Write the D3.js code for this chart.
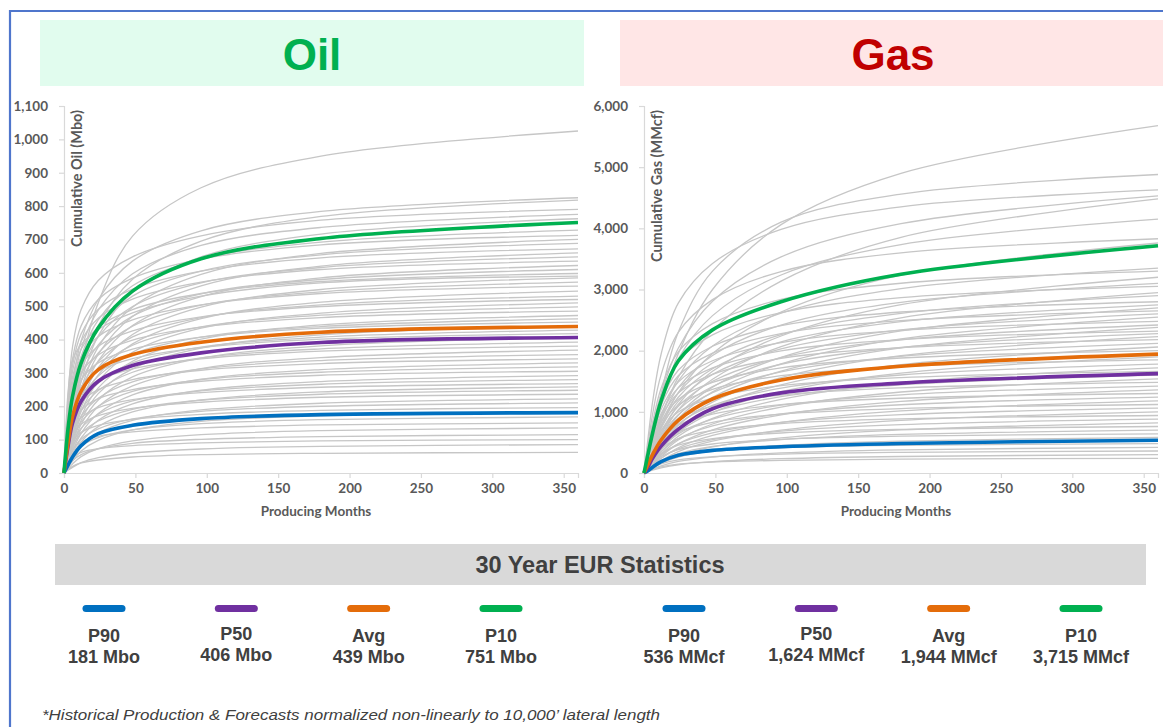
<!DOCTYPE html>
<html>
<head>
<meta charset="utf-8">
<script src="https://cdn.jsdelivr.net/npm/d3@7"></script>
<style>
  html, body { margin: 0; padding: 0; background: #ffffff; }
  svg { display: block; }
</style>
</head>
<body>
<svg id="chart" width="1163" height="727"></svg>
<script>
// ---------------- DATA ----------------
const months = [0, 3, 6, 12, 24, 48, 96, 180, 360];

const oilTicksY = [0, 100, 200, 300, 400, 500, 600, 700, 800, 900, 1000, 1100];
const gasTicksY = [0, 1000, 2000, 3000, 4000, 5000, 6000];
const monthTicks = [0, 50, 100, 150, 200, 250, 300, 350];

const oilP90 = [0, 25, 48, 82, 118, 143, 163, 175, 181];
const oilP50 = [0, 85, 150, 215, 275, 322, 360, 391, 406];
const oilAvg = [0, 95, 170, 245, 310, 355, 392, 422, 439];
const oilP10 = [0, 140, 230, 330, 435, 545, 642, 703, 751];

const gasP90 = [0, 40, 95, 185, 290, 370, 428, 482, 536];
const gasP50 = [0, 110, 240, 440, 715, 1050, 1310, 1470, 1624];
const gasAvg = [0, 150, 300, 540, 860, 1210, 1520, 1745, 1944];
const gasP10 = [0, 330, 650, 1180, 1830, 2340, 2800, 3250, 3715];

const oilWells = [
  [0, 60, 150, 320, 510, 710, 855, 950, 1025],
  [0, 250, 340, 385, 430, 480, 530, 570, 590],
  [0, 149, 264, 396, 520, 635, 726, 784, 825],
  [0, 82, 164, 294, 442, 581, 695, 769, 818],
  [0, 237, 379, 490, 577, 648, 711, 758, 790],
  [0, 140, 248, 372, 488, 597, 682, 736, 775],
  [0, 76, 152, 274, 411, 541, 648, 716, 762],
  [0, 131, 233, 349, 459, 561, 641, 692, 728],
  [0, 214, 342, 441, 520, 584, 641, 684, 712],
  [0, 70, 140, 252, 378, 497, 595, 658, 700],
  [0, 124, 220, 330, 433, 530, 605, 654, 688],
  [0, 202, 323, 417, 491, 551, 605, 645, 672],
  [0, 66, 132, 238, 356, 469, 561, 620, 660],
  [0, 117, 207, 311, 408, 499, 570, 616, 648],
  [0, 191, 305, 394, 464, 521, 572, 610, 635],
  [0, 62, 124, 224, 336, 442, 529, 585, 622],
  [0, 110, 195, 293, 384, 470, 537, 580, 610],
  [0, 179, 287, 371, 437, 490, 538, 574, 598],
  [0, 59, 117, 211, 316, 415, 497, 550, 585],
  [0, 103, 183, 275, 360, 440, 503, 543, 572],
  [0, 168, 269, 347, 409, 459, 504, 538, 560],
  [0, 55, 109, 196, 294, 387, 463, 512, 545],
  [0, 95, 170, 254, 334, 408, 466, 504, 530],
  [0, 156, 250, 322, 380, 426, 468, 499, 520],
  [0, 51, 102, 184, 275, 362, 434, 479, 510],
  [0, 90, 159, 239, 314, 383, 438, 473, 498],
  [0, 146, 233, 301, 354, 398, 437, 466, 485],
  [0, 47, 94, 170, 255, 335, 401, 444, 472],
  [0, 83, 148, 222, 291, 356, 407, 439, 462],
  [0, 136, 217, 280, 330, 371, 407, 434, 452],
  [0, 44, 88, 158, 238, 312, 374, 414, 440],
  [0, 77, 137, 205, 270, 330, 377, 407, 428],
  [0, 125, 201, 259, 305, 343, 376, 401, 418],
  [0, 41, 81, 146, 219, 288, 344, 381, 405],
  [0, 71, 125, 188, 247, 302, 345, 372, 392],
  [0, 114, 182, 236, 277, 312, 342, 365, 380],
  [0, 37, 74, 132, 199, 261, 313, 346, 368],
  [0, 64, 114, 170, 224, 273, 312, 337, 355],
  [0, 103, 164, 212, 250, 280, 308, 328, 342],
  [0, 33, 66, 119, 178, 234, 281, 310, 330],
  [0, 57, 102, 153, 200, 245, 280, 302, 318],
  [0, 92, 146, 189, 223, 250, 275, 293, 305],
  [0, 29, 58, 105, 158, 207, 248, 274, 292],
  [0, 50, 90, 134, 176, 216, 246, 266, 280],
  [0, 80, 129, 166, 196, 220, 241, 257, 268],
  [0, 26, 52, 93, 139, 183, 219, 243, 258],
  [0, 45, 79, 119, 156, 191, 218, 236, 248],
  [0, 71, 113, 146, 172, 194, 212, 227, 236],
  [0, 22, 44, 80, 120, 158, 189, 209, 222],
  [0, 38, 67, 101, 132, 162, 185, 200, 210],
  [0, 59, 94, 122, 143, 161, 176, 188, 196],
  [0, 18, 36, 66, 98, 129, 155, 171, 182],
  [0, 30, 54, 81, 106, 129, 148, 160, 168],
  [0, 45, 72, 93, 110, 123, 135, 144, 150],
  [0, 14, 27, 49, 73, 96, 115, 127, 135],
  [0, 21, 37, 55, 72, 89, 101, 109, 115],
  [0, 30, 48, 62, 73, 82, 90, 96, 100],
  [0, 9, 17, 31, 46, 60, 72, 80, 85],
  [0, 11, 20, 30, 39, 48, 55, 59, 62]
];

const gasWells = [
  [0, 300, 600, 1100, 1950, 3000, 4060, 4900, 5680],
  [0, 350, 700, 1300, 2300, 3300, 4100, 4560, 4880],
  [0, 602, 1158, 1945, 2778, 3426, 3982, 4352, 4630],
  [0, 362, 680, 1268, 2039, 2809, 3533, 4077, 4530],
  [0, 224, 448, 896, 1568, 2330, 3136, 3853, 4480],
  [0, 332, 623, 1162, 1868, 2573, 3237, 3735, 4150],
  [0, 498, 958, 1609, 2298, 2834, 3294, 3600, 3830],
  [0, 188, 376, 752, 1316, 1955, 2632, 3234, 3760],
  [0, 268, 503, 938, 1508, 2077, 2613, 3015, 3350],
  [0, 429, 825, 1386, 1980, 2442, 2838, 3102, 3300],
  [0, 160, 320, 640, 1120, 1664, 2240, 2752, 3200],
  [0, 248, 465, 868, 1395, 1922, 2418, 2790, 3100],
  [0, 397, 763, 1281, 1830, 2257, 2623, 2867, 3050],
  [0, 148, 295, 590, 1033, 1534, 2065, 2537, 2950],
  [0, 232, 435, 812, 1305, 1798, 2262, 2610, 2900],
  [0, 364, 700, 1176, 1680, 2072, 2408, 2632, 2800],
  [0, 220, 413, 770, 1238, 1705, 2145, 2475, 2750],
  [0, 135, 270, 540, 945, 1404, 1890, 2322, 2700],
  [0, 345, 663, 1113, 1590, 1961, 2279, 2491, 2650],
  [0, 208, 390, 728, 1170, 1612, 2028, 2340, 2600],
  [0, 128, 255, 510, 893, 1326, 1785, 2193, 2550],
  [0, 322, 620, 1042, 1488, 1835, 2133, 2331, 2480],
  [0, 194, 363, 678, 1089, 1500, 1888, 2178, 2420],
  [0, 119, 238, 476, 833, 1238, 1666, 2047, 2380],
  [0, 302, 580, 974, 1392, 1717, 1995, 2181, 2320],
  [0, 182, 342, 638, 1026, 1414, 1778, 2052, 2280],
  [0, 112, 223, 446, 781, 1160, 1561, 1918, 2230],
  [0, 283, 545, 916, 1308, 1613, 1875, 2049, 2180],
  [0, 170, 318, 594, 954, 1314, 1654, 1908, 2120],
  [0, 103, 206, 412, 721, 1071, 1442, 1772, 2060],
  [0, 260, 500, 840, 1200, 1480, 1720, 1880, 2000],
  [0, 156, 293, 546, 878, 1209, 1521, 1755, 1950],
  [0, 95, 190, 380, 665, 988, 1330, 1634, 1900],
  [0, 241, 463, 777, 1110, 1369, 1591, 1739, 1850],
  [0, 142, 267, 498, 801, 1104, 1388, 1602, 1780],
  [0, 86, 172, 344, 602, 894, 1204, 1479, 1720],
  [0, 216, 415, 697, 996, 1228, 1428, 1560, 1660],
  [0, 128, 240, 448, 720, 992, 1248, 1440, 1600],
  [0, 77, 154, 308, 539, 801, 1078, 1324, 1540],
  [0, 192, 370, 622, 888, 1095, 1273, 1391, 1480],
  [0, 114, 213, 398, 639, 880, 1108, 1278, 1420],
  [0, 68, 136, 272, 476, 707, 952, 1170, 1360],
  [0, 169, 325, 546, 780, 962, 1118, 1222, 1300],
  [0, 99, 186, 347, 558, 769, 967, 1116, 1240],
  [0, 59, 118, 236, 413, 614, 826, 1015, 1180],
  [0, 146, 280, 470, 672, 829, 963, 1053, 1120],
  [0, 85, 159, 297, 477, 657, 827, 954, 1060],
  [0, 50, 100, 200, 350, 520, 700, 860, 1000],
  [0, 122, 235, 395, 564, 696, 808, 884, 940],
  [0, 70, 132, 246, 396, 546, 686, 792, 880],
  [0, 41, 82, 164, 287, 426, 574, 705, 820],
  [0, 99, 190, 319, 456, 562, 654, 714, 760],
  [0, 56, 105, 196, 315, 434, 546, 630, 700],
  [0, 83, 160, 269, 384, 474, 550, 602, 640],
  [0, 46, 87, 162, 261, 360, 452, 522, 580],
  [0, 62, 120, 202, 288, 355, 413, 451, 480],
  [0, 34, 63, 118, 189, 260, 328, 378, 420],
  [0, 47, 90, 151, 216, 266, 310, 338, 360],
  [0, 24, 45, 84, 135, 186, 234, 270, 300],
  [0, 31, 60, 101, 144, 178, 206, 226, 240]
];

const statLabels = ["P90", "P50", "Avg", "P10"];
const oilStats = ["181 Mbo", "406 Mbo", "439 Mbo", "751 Mbo"];
const gasStats = ["536 MMcf", "1,624 MMcf", "1,944 MMcf", "3,715 MMcf"];
const statColors = ["#0070c0", "#7030a0", "#e46c0a", "#00b050"];

// ---------------- DRAW ----------------
const svg = d3.select("#chart");
const TXT = "#595959";
const DARK = "#404040";

// outer frame
svg.append("path")
  .attr("d", "M10,740 L10,11 L1175,11")
  .attr("fill", "none").attr("stroke", "#4f76cc").attr("stroke-width", 2.2);

// header boxes
svg.append("rect").attr("x", 40).attr("y", 20).attr("width", 544).attr("height", 66).attr("fill", "#e1fcee");
svg.append("rect").attr("x", 620).attr("y", 20).attr("width", 560).attr("height", 66).attr("fill", "#ffe6e6");
svg.append("text").attr("x", 312).attr("y", 70).attr("text-anchor", "middle")
  .attr("font-family", "Liberation Sans, Arial, sans-serif").attr("font-weight", "bold")
  .attr("font-size", 44).attr("fill", "#00b050").text("Oil");
svg.append("text").attr("x", 893).attr("y", 70).attr("text-anchor", "middle")
  .attr("font-family", "Liberation Sans, Arial, sans-serif").attr("font-weight", "bold")
  .attr("font-size", 44).attr("fill", "#c00000").text("Gas");

function drawPanel(cfg) {
  const x = d3.scaleLinear().domain([0, 360]).range([cfg.x0, cfg.x1]);
  const y = d3.scaleLinear().domain([0, cfg.ymax]).range([473, 106]);
  const g = svg.append("g");

  const line = d3.line()
    .x((d, i) => x(months[i]))
    .y(d => y(d))
    .curve(d3.curveCatmullRom.alpha(0.5));

  // axes
  const ya = g.append("g").attr("transform", `translate(${cfg.x0},0)`)
    .call(d3.axisLeft(y).tickValues(cfg.yticks).tickSize(5).tickPadding(11)
      .tickFormat(d3.format(",")));
  const xa = g.append("g").attr("transform", `translate(0,473)`)
    .call(d3.axisBottom(x).tickValues(monthTicks).tickSize(5).tickPadding(5)
      .tickFormat(d3.format("d")));
  [ya, xa].forEach(a => {
    a.select(".domain").attr("stroke", "#d9d9d9").attr("stroke-width", 1.2);
    a.selectAll(".tick line").attr("stroke", "#d9d9d9").attr("stroke-width", 1.2);
    a.selectAll(".tick text").attr("fill", TXT)
      .attr("font-family", "Lato, Carlito, sans-serif").attr("font-weight", "bold")
      .attr("font-size", 13.5);
  });

  // gray wells
  g.append("g").selectAll("path").data(cfg.wells).join("path")
    .attr("d", line).attr("fill", "none")
    .attr("stroke", "#c6c6c6").attr("stroke-width", 1.3);

  // stat curves
  cfg.stats.forEach((s, i) => {
    g.append("path").datum(s).attr("d", line).attr("fill", "none")
      .attr("stroke", statColors[i]).attr("stroke-width", 3.6)
      .attr("stroke-linejoin", "round");
  });

  // axis titles
  g.append("text")
    .attr("transform", `translate(${cfg.x0 + 18},110) rotate(-90)`)
    .attr("text-anchor", "end")
    .attr("font-family", "Lato, sans-serif").attr("font-weight", "bold")
    .attr("font-size", 14.5).attr("fill", TXT).text(cfg.ytitle);
  g.append("text")
    .attr("x", (cfg.x0 + cfg.x1) / 2 - 5).attr("y", 516).attr("text-anchor", "middle")
    .attr("font-family", "Lato, sans-serif").attr("font-weight", "bold")
    .attr("font-size", 13.5).attr("fill", TXT).text("Producing Months");
}

drawPanel({
  x0: 64, x1: 578, ymax: 1100, yticks: oilTicksY, wells: oilWells,
  stats: [oilP90, oilP50, oilAvg, oilP10], ytitle: "Cumulative Oil (Mbo)"
});
drawPanel({
  x0: 644, x1: 1158, ymax: 6000, yticks: gasTicksY, wells: gasWells,
  stats: [gasP90, gasP50, gasAvg, gasP10], ytitle: "Cumulative Gas (MMcf)"
});

// stats banner
svg.append("rect").attr("x", 55).attr("y", 544).attr("width", 1091).attr("height", 41).attr("fill", "#d9d9d9");
svg.append("text").attr("x", 600).attr("y", 573).attr("text-anchor", "middle")
  .attr("font-family", "Liberation Sans, Arial, sans-serif").attr("font-weight", "bold")
  .attr("font-size", 23.5).attr("fill", DARK).text("30 Year EUR Statistics");

// legends
function drawLegend(values, r0, r1) {
  const px = d3.scalePoint().domain(statLabels).range([r0, r1]);
  const lg = svg.append("g");
  statLabels.forEach((lab, i) => {
    const cx = px(lab);
    const off = lab === "P50" ? -2.5 : 0;
    lg.append("line").attr("x1", cx - 18).attr("x2", cx + 18)
      .attr("y1", 608.5).attr("y2", 608.5)
      .attr("stroke", statColors[i]).attr("stroke-width", 7).attr("stroke-linecap", "round");
    lg.append("text").attr("x", cx).attr("y", 642 + off).attr("text-anchor", "middle")
      .attr("font-family", "Liberation Sans, Arial, sans-serif").attr("font-weight", "bold")
      .attr("font-size", 18).attr("fill", DARK).text(lab);
    lg.append("text").attr("x", cx).attr("y", 663 + off).attr("text-anchor", "middle")
      .attr("font-family", "Liberation Sans, Arial, sans-serif").attr("font-weight", "bold")
      .attr("font-size", 18).attr("fill", DARK).text(values[i]);
  });
}
drawLegend(oilStats, 104, 501);
drawLegend(gasStats, 684, 1081);

// footnote
svg.append("text").attr("x", 42).attr("y", 720)
  .attr("font-family", "Liberation Sans, Arial, sans-serif").attr("font-style", "italic")
  .attr("font-size", 15).attr("fill", DARK)
  .attr("textLength", 618).attr("lengthAdjust", "spacingAndGlyphs")
  .text("*Historical Production & Forecasts normalized non-linearly to 10,000\u2019 lateral length");
</script>
</body>
</html>
